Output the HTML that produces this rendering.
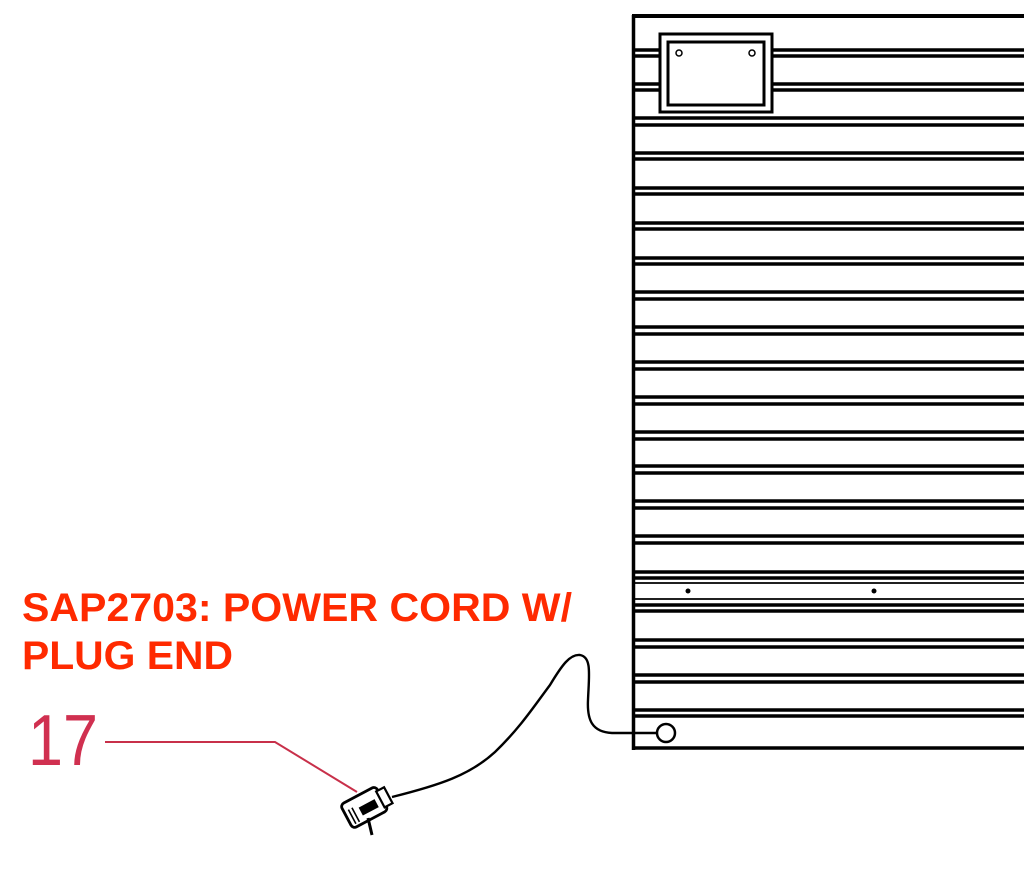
<!DOCTYPE html>
<html><head><meta charset="utf-8"><style>
html,body{margin:0;padding:0;background:#fff;}
svg{display:block;}
</style></head><body>
<svg width="1024" height="870" viewBox="0 0 1024 870" xmlns="http://www.w3.org/2000/svg">
<rect width="1024" height="870" fill="#fff"/>
<g stroke="#000" fill="none">
  <line x1="632" y1="16" x2="1024" y2="16" stroke-width="4"/>
  <line x1="633.5" y1="15" x2="633.5" y2="750" stroke-width="3.5"/>
  <line x1="632" y1="748" x2="1024" y2="748" stroke-width="3.5"/>
</g>
<g stroke="#000" stroke-width="3.4">
  <line x1="634" y1="50" x2="660" y2="50"/><line x1="773" y1="50" x2="1024" y2="50"/>
  <line x1="634" y1="56" x2="660" y2="56"/><line x1="773" y1="56" x2="1024" y2="56"/>
  <line x1="634" y1="84" x2="660" y2="84"/><line x1="773" y1="84" x2="1024" y2="84"/>
  <line x1="634" y1="90" x2="660" y2="90"/><line x1="773" y1="90" x2="1024" y2="90"/>
  <line x1="634" y1="118" x2="1024" y2="118"/><line x1="634" y1="125" x2="1024" y2="125"/>
  <line x1="634" y1="153" x2="1024" y2="153"/><line x1="634" y1="159" x2="1024" y2="159"/>
  <line x1="634" y1="188" x2="1024" y2="188"/><line x1="634" y1="194" x2="1024" y2="194"/>
  <line x1="634" y1="223" x2="1024" y2="223"/><line x1="634" y1="229" x2="1024" y2="229"/>
  <line x1="634" y1="258" x2="1024" y2="258"/><line x1="634" y1="264" x2="1024" y2="264"/>
  <line x1="634" y1="292" x2="1024" y2="292"/><line x1="634" y1="299" x2="1024" y2="299"/>
  <line x1="634" y1="327" x2="1024" y2="327"/><line x1="634" y1="334" x2="1024" y2="334"/>
  <line x1="634" y1="362" x2="1024" y2="362"/><line x1="634" y1="369" x2="1024" y2="369"/>
  <line x1="634" y1="397" x2="1024" y2="397"/><line x1="634" y1="404" x2="1024" y2="404"/>
  <line x1="634" y1="432" x2="1024" y2="432"/><line x1="634" y1="439" x2="1024" y2="439"/>
  <line x1="634" y1="466" x2="1024" y2="466"/><line x1="634" y1="473" x2="1024" y2="473"/>
  <line x1="634" y1="501" x2="1024" y2="501"/><line x1="634" y1="508" x2="1024" y2="508"/>
  <line x1="634" y1="536" x2="1024" y2="536"/><line x1="634" y1="543" x2="1024" y2="543"/>
  <line x1="634" y1="572" x2="1024" y2="572"/><line x1="634" y1="578" x2="1024" y2="578"/>
  <line x1="634" y1="583" x2="1024" y2="583" stroke-width="1.8"/>
  <line x1="634" y1="599" x2="1024" y2="599" stroke-width="1.8"/>
  <line x1="634" y1="605" x2="1024" y2="605"/><line x1="634" y1="611" x2="1024" y2="611"/>
  <line x1="634" y1="640" x2="1024" y2="640"/><line x1="634" y1="647" x2="1024" y2="647"/>
  <line x1="634" y1="675" x2="1024" y2="675"/><line x1="634" y1="682" x2="1024" y2="682"/>
  <line x1="634" y1="710" x2="1024" y2="710"/><line x1="634" y1="716" x2="1024" y2="716"/>
</g>
<circle cx="688" cy="591" r="2.5" fill="#000"/>
<circle cx="874" cy="591" r="2.5" fill="#000"/>
<rect x="660" y="34" width="112" height="78" fill="#fff" stroke="#000" stroke-width="3"/>
<rect x="668" y="42" width="96" height="63" fill="#fff" stroke="#000" stroke-width="3"/>
<circle cx="679" cy="53" r="3" fill="none" stroke="#000" stroke-width="1.5"/>
<circle cx="752" cy="53" r="3" fill="none" stroke="#000" stroke-width="1.5"/>
<path d="M392,797 C440,785 470,775 495,752 C520,728 535,705 550,685 C562,665 570,654 580,655 C592,657 589,675 588,700 C587,720 592,732 612,733 L657,733" fill="none" stroke="#000" stroke-width="2.4"/>
<circle cx="666" cy="733" r="9" fill="#fff" stroke="#000" stroke-width="2.5"/>
<g transform="translate(368,806) rotate(-28)">
  <rect x="-24" y="-14" width="40" height="27" rx="4" fill="#fff" stroke="#000" stroke-width="2.8"/>
  <rect x="14" y="-9" width="9" height="18" fill="#fff" stroke="#000" stroke-width="2.2"/>
  <rect x="-9" y="-3" width="18" height="9" fill="#000"/>
  <line x1="-19" y1="-6" x2="-19" y2="10" stroke="#000" stroke-width="1.6"/>
  <line x1="-15" y1="-6" x2="-15" y2="10" stroke="#000" stroke-width="1.6"/>
</g>
<line x1="368" y1="818" x2="372" y2="835" stroke="#000" stroke-width="3"/>
<polyline points="105,742 275,742 357,792" fill="none" stroke="#c8304a" stroke-width="2"/>
<text x="22" y="621" font-family="Liberation Sans, sans-serif" font-weight="bold" font-size="40" fill="#ff2a00" textLength="550" lengthAdjust="spacingAndGlyphs">SAP2703: POWER CORD W/</text>
<text x="22" y="669" font-family="Liberation Sans, sans-serif" font-weight="bold" font-size="40" fill="#ff2a00" textLength="211" lengthAdjust="spacingAndGlyphs">PLUG END</text>
<text x="28" y="765" font-family="Liberation Sans, sans-serif" font-size="72" fill="#d03050" textLength="70" lengthAdjust="spacingAndGlyphs">17</text>
</svg>
</body></html>
